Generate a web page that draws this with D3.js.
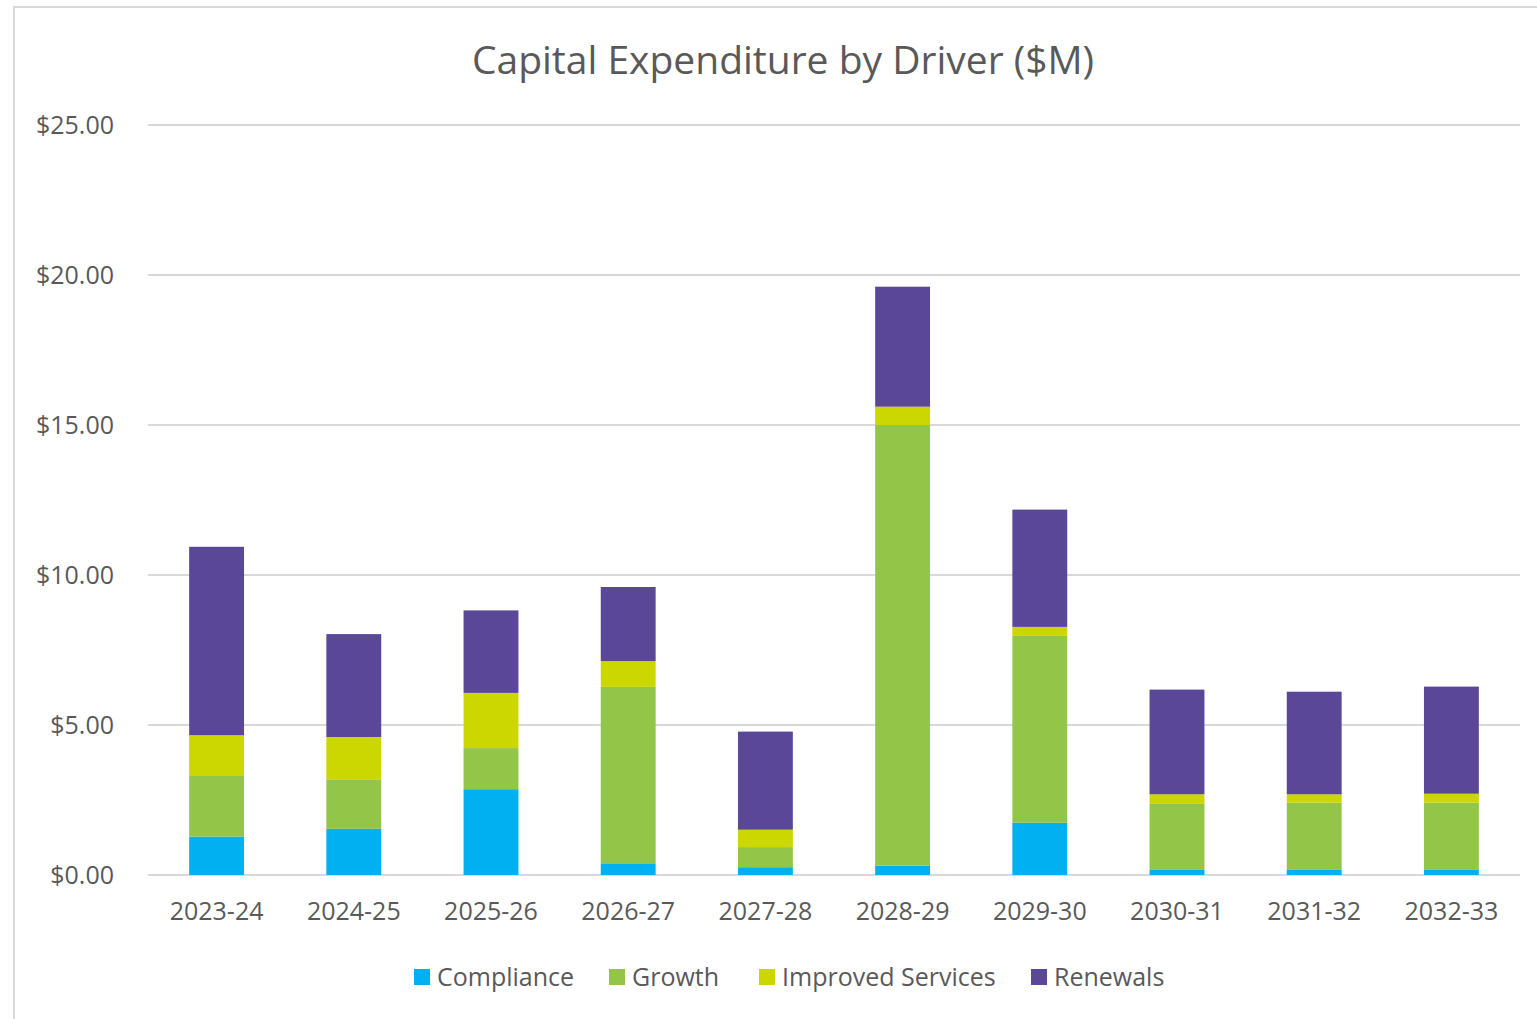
<!DOCTYPE html>
<html>
<head>
<meta charset="utf-8">
<script src="https://cdn.jsdelivr.net/npm/d3@7"></script>
<style>
  html, body { margin: 0; background: #fff; overflow: hidden; }
  svg { display: block; }
  text { font-family: "Open Sans", sans-serif; fill: #595959; }
</style>
</head>
<body>
<div id="chart"></div>
<script>
const years = ["2023-24", "2024-25", "2025-26", "2026-27", "2027-28", "2028-29", "2029-30", "2030-31", "2031-32", "2032-33"];
const drivers = ["Compliance", "Growth", "Improved Services", "Renewals"];
const compliance = [1.28, 1.54, 2.86, 0.39, 0.26, 0.31, 1.74, 0.17, 0.17, 0.17];
const growth = [2.02, 1.63, 1.37, 5.88, 0.67, 14.69, 6.23, 2.20, 2.24, 2.24];
const improved = [1.36, 1.43, 1.84, 0.86, 0.58, 0.61, 0.30, 0.32, 0.28, 0.30];
const renewals = [6.28, 3.43, 2.75, 2.47, 3.27, 4.00, 3.91, 3.49, 3.42, 3.57];
const yTicks = [0, 5, 10, 15, 20, 25];

const width = 1537, height = 1019;
const margin = { top: 125, right: 17, bottom: 144, left: 148 };
const innerWidth = width - margin.left - margin.right;
const innerHeight = height - margin.top - margin.bottom;
const colors = ["#00b0f0", "#92c548", "#ccd600", "#5a4798"];

const rows = years.map((y, i) => ({
  year: y,
  "Compliance": compliance[i],
  "Growth": growth[i],
  "Improved Services": improved[i],
  "Renewals": renewals[i]
}));
const series = d3.stack().keys(drivers)(rows);

const svg = d3.select("#chart")
  .append("svg")
  .attr("width", width)
  .attr("height", height);

// outer frame (runs off the right and bottom edge, as in the source)
svg.append("path")
  .attr("d", `M${width},7 H14 V${height}`)
  .attr("fill", "none")
  .attr("stroke", "#d9d9d9")
  .attr("stroke-width", 2);

const xScale = d3.scaleBand()
  .domain(years)
  .range([0, innerWidth])
  .paddingInner(0.6)
  .paddingOuter(0.3);

const yScale = d3.scaleLinear()
  .domain([0, 25])
  .range([innerHeight, 0]);

const innerChart = svg.append("g")
  .attr("transform", `translate(${margin.left},${margin.top})`);

// gridlines
innerChart.append("g")
  .selectAll("line")
  .data(yTicks)
  .join("line")
  .attr("x1", 0)
  .attr("x2", innerWidth)
  .attr("y1", d => yScale(d))
  .attr("y2", d => yScale(d))
  .attr("stroke", "#d9d9d9")
  .attr("stroke-width", 2);

innerChart.append("g")
  .selectAll("g")
  .data(series)
  .join("g")
  .attr("fill", (d, i) => colors[i])
  .selectAll("rect")
  .data(d => d)
  .join("rect")
  .attr("x", d => xScale(d.data.year))
  .attr("y", d => yScale(d[1]))
  .attr("width", xScale.bandwidth())
  .attr("height", d => yScale(d[0]) - yScale(d[1]));

const leftAxisG = innerChart.append("g")
  .attr("font-size", 25)
  .call(d3.axisLeft(yScale).tickValues(yTicks).tickSize(0).tickPadding(34)
    .tickFormat(d => "$" + d3.format(".2f")(d)));
leftAxisG.select(".domain").remove();
leftAxisG.selectAll("text")
  .attr("font-size", 25)
  .attr("fill", "#595959")
  .attr("font-family", "Open Sans, sans-serif");

const bottomAxisG = innerChart.append("g")
  .attr("transform", `translate(0,${innerHeight})`)
  .call(d3.axisBottom(xScale).tickSize(0).tickPadding(27));
bottomAxisG.select(".domain").remove();
bottomAxisG.selectAll("text")
  .attr("font-size", 25)
  .attr("fill", "#595959")
  .attr("font-family", "Open Sans, sans-serif");

svg.append("text")
  .attr("x", 783)
  .attr("y", 74)
  .attr("text-anchor", "middle")
  .attr("font-size", 39)
  .text("Capital Expenditure by Driver ($M)");

// legend
const legendX = [414, 609, 759, 1031];
const legend = svg.append("g")
  .selectAll("g")
  .data(drivers)
  .join("g")
  .attr("transform", (d, i) => `translate(${legendX[i]},977)`);
legend.append("rect")
  .attr("x", 0).attr("y", -8)
  .attr("width", 16).attr("height", 16)
  .attr("fill", (d, i) => colors[i]);
legend.append("text")
  .attr("x", 23)
  .attr("dy", "0.35em")
  .attr("font-size", 25)
  .text(d => d);
</script>
</body>
</html>
